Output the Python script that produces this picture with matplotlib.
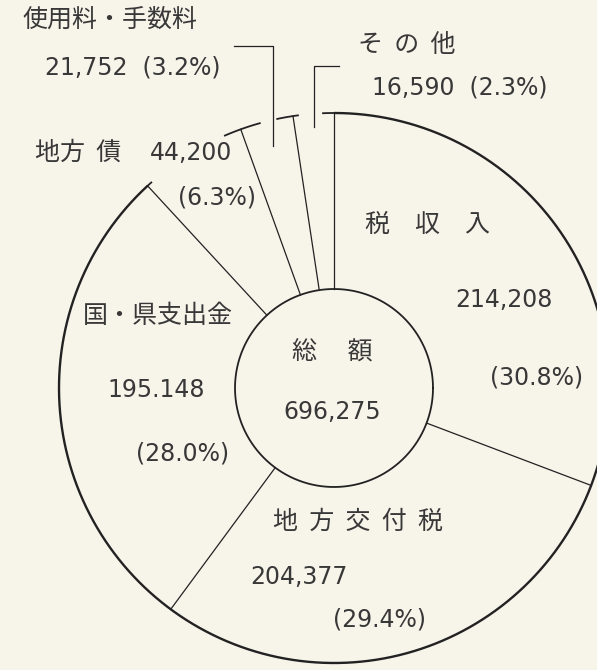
import matplotlib.pyplot as plt
import numpy as np

#########################################################
# data (revenue breakdown, clockwise from 12 o'clock)
categories = ['税収入', '地方交付税', '国・県支出金', '地方債', '使用料・手数料', 'その他']
amounts = [214208, 204377, 195148, 44200, 21752, 16590]
amount_labels = ['214,208', '204,377', '195.148', '44,200', '21,752', '16,590']
pct_labels = ['(30.8%)', '(29.4%)', '(28.0%)', '(6.3%)', '(3.2%)', '(2.3%)']
total_label = '696,275'

#########################################################
# geometry of the ring (pixel space, y goes down)
W, H = 597, 670
cx, cy = 334, 388
r_out, r_in = 275, 99

LINE = '#222222'
TEXT = '#383838'
PAPER = '#f7f4ea'

JP = ['Noto Sans CJK JP', 'DejaVu Sans']
NUM = ['DejaVu Sans', 'Noto Sans CJK JP']


def pt(theta, r):
    # theta in degrees, math convention -> pixel coords
    t = np.radians(theta)
    return cx + r*np.cos(t), cy - r*np.sin(t)


# slice boundaries, starting at the top and going clockwise
vals = np.array(amounts, dtype=float)
cum = np.concatenate([[0], np.cumsum(vals)]) / vals.sum()
bounds = 90 - 360*cum            # bounds[k] = start of slice k
mids = (bounds[:-1] + bounds[1:]) / 2

fig = plt.figure(figsize=(W/100, H/100), dpi=100)
fig.patch.set_facecolor(PAPER)
ax = fig.add_axes([0, 0, 1, 1])
ax.set_xlim(0, W)
ax.set_ylim(H, 0)
ax.axis('off')
ax.set_facecolor(PAPER)

#########################################################
# outer arc only covers the three big slices
th = np.linspace(bounds[0], bounds[3], 600)
x, y = pt(th, r_out)
ax.plot(x, y, color=LINE, lw=1.7, solid_capstyle='butt')

# inner circle (総額)
th = np.linspace(0, 360, 400)
x, y = pt(th, r_in)
ax.plot(x, y, color=LINE, lw=1.3)

# radial separators
for b in bounds[:-1]:
    x0, y0 = pt(b, r_in)
    x1, y1 = pt(b, r_out)
    ax.plot([x0, x1], [y0, y1], color=LINE, lw=0.9)

# short caps at the ends of the open part (ccw px, cw px)
caps = [(bounds[0], 11, 0), (bounds[3], 0, 5), (bounds[4], 17, 20), (bounds[5], 16, 5)]
for b, ccw, cw in caps:
    th = np.linspace(b - np.degrees(cw/r_out), b + np.degrees(ccw/r_out), 20)
    x, y = pt(th, r_out)
    ax.plot(x, y, color=LINE, lw=1.3)

# leaders for the two thin slices
lx, ly = pt(mids[4], 250)
ax.plot([234, lx, lx], [46, 46, ly], color=LINE, lw=0.9)
lx, ly = pt(mids[5], 262)
ax.plot([lx + 25, lx, lx], [66, 66, ly], color=LINE, lw=0.9)

#########################################################
# texts
fs_jp = 18
fs_num = 17

def txt(x, y, s, fam, fs, ha='left'):
    ax.text(x, y, s, family=fam, fontsize=fs, color=TEXT, ha=ha, va='center')

# 税収入
txt(365, 225, '税　収　入', JP, fs_jp)
txt(455, 300, amount_labels[0], NUM, fs_num)
txt(490, 378, pct_labels[0], NUM, fs_num)
# 地方交付税
txt(273, 522, '地  方  交  付  税', JP, fs_jp)
txt(250, 577, amount_labels[1], NUM, fs_num)
txt(333, 620, pct_labels[1], NUM, fs_num)
# 国・県支出金
txt(83, 316, categories[2], JP, fs_jp)
txt(107, 390, amount_labels[2], NUM, fs_num)
txt(136, 453, pct_labels[2], NUM, fs_num)
# 地方債
txt(35, 153, '地方  債', JP, fs_jp)
txt(150, 153, amount_labels[3], NUM, fs_num)
txt(178, 197, pct_labels[3], NUM, fs_num)
# 使用料・手数料
txt(22, 20, categories[4], JP, fs_jp)
txt(45, 68, amount_labels[4] + '  ' + pct_labels[4], NUM, fs_num)
# その他
txt(358, 45, 'そ  の  他', JP, fs_jp)
txt(372, 88, amount_labels[5] + '  ' + pct_labels[5], NUM, fs_num)
# 総額
txt(cx - 2, 352, '総　 額', JP, fs_jp, ha='center')
txt(cx - 2, 412, total_label, NUM, fs_num, ha='center')

fig.savefig('out.png', dpi=100, facecolor=PAPER)
